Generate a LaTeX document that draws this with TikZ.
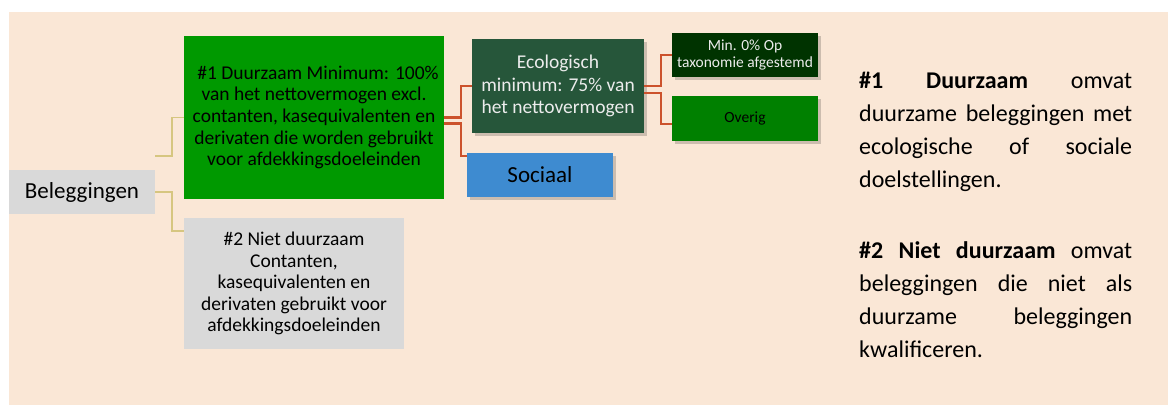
\documentclass[tikz,border=0pt]{standalone}
\usepackage{fontspec}
\setmainfont{Carlito}
\usetikzlibrary{positioning,calc,shadows}
\definecolor{perzik}{RGB}{250,231,214}
\definecolor{lichtgrijs}{RGB}{217,217,217}
\definecolor{felgroen}{RGB}{0,153,0}
\definecolor{bosgroen}{RGB}{38,86,58}
\definecolor{donkergroen}{RGB}{0,51,0}
\definecolor{middengroen}{RGB}{0,128,0}
\definecolor{hemelblauw}{RGB}{62,139,208}
\definecolor{roestrood}{RGB}{204,82,44}
\definecolor{kaki}{RGB}{214,198,128}
\definecolor{wittekst}{RGB}{236,236,236}

\begin{document}
\begin{tikzpicture}[x=1pt, y=-1pt,
  vak/.style={fill=#1, inner sep=0pt, align=center, text=black},
  schaduw/.style={drop shadow={shadow xshift=2.5pt, shadow yshift=-2.5pt,
    opacity=0.18, fill=black}},
  tak/.style={draw=#1, line width=2.1pt},
  uitleg/.style={anchor=north west, text width=273pt, align=justify,
    inner sep=0pt, font=\fontsize{24}{33}\selectfont}
]
\useasboundingbox (0,0) rectangle (1168,405);
\fill[perzik] (9,12) rectangle (1168,405);

\node[vak=lichtgrijs, minimum width=146pt, minimum height=44pt,
  font=\fontsize{23}{27}\selectfont] (bel) at (82,192) {Beleggingen};
\node[vak=felgroen, minimum width=260pt, minimum height=163pt,
  font=\fontsize{19.5}{21.7}\selectfont] (dz) at (314,117.5)
  {\hspace{8pt}\#1 Duurzaam Minimum: 100\%\\van het nettovermogen excl.\\
   contanten, kasequivalenten en\\derivaten die worden gebruikt\\
   voor afdekkingsdoeleinden};
\node[vak=lichtgrijs, minimum width=220pt, minimum height=131pt,
  font=\fontsize{19.5}{21.5}\selectfont] (nd) at (294,283.5)
  {\#2 Niet duurzaam\\Contanten,\\kasequivalenten en\\
   derivaten gebruikt voor\\afdekkingsdoeleinden};
\node[vak=bosgroen, schaduw, text=wittekst, minimum width=172pt,
  minimum height=94pt, font=\fontsize{19.5}{22.5}\selectfont] (eco) at (558,86)
  {Ecologisch\\minimum: 75\% van\\het nettovermogen};
\node[vak=hemelblauw, schaduw, minimum width=146pt, minimum height=44pt,
  font=\fontsize{23}{27}\selectfont] (soc) at (540,175) {Sociaal};
\node[vak=donkergroen, schaduw, text=wittekst, minimum width=146pt,
  minimum height=44pt, font=\fontsize{15.5}{17.5}\selectfont] (tax) at (745,55)
  {Min. 0\% Op\\taxonomie afgestemd};
\node[vak=middengroen, schaduw, minimum width=146pt, minimum height=45pt,
  font=\fontsize{15.5}{17.5}\selectfont] (ov) at (745,118.5) {Overig};

% vertakkingen
\coordinate (belhoog) at ($(bel.north east)+(0,-14)$);
\draw[tak=kaki, line width=1.6pt] (belhoog) -- ++(17,0) |- (dz.west);
\draw[tak=kaki, line width=1.6pt] (bel.east) -- ++(17,0) |- ($(nd.north west)+(0,13)$);
\draw[tak=roestrood] (dz.east) -- ++(17,0) |- (eco.west);
\draw[tak=roestrood] ($(dz.east)+(0,6)$) -- ++(17,0) |- ($(soc.north west)+(0,3)$);
\draw[tak=roestrood] (eco.east) -- ++(17,0) |- (tax.west);
\draw[tak=roestrood] ($(eco.east)+(0,7)$) -- ++(17,0) |- ($(ov.west)+(0,5.5)$);

% toelichting
\node[uitleg] (uitleg1) at (859,72) {\hyphenpenalty=10000
  \textbf{\#1 Duurzaam} omvat\linebreak duurzame beleggingen met\linebreak
  ecologische of sociale\linebreak doelstellingen.};
\node[uitleg] (uitleg2) at (859,241) {\hyphenpenalty=10000
  \textbf{\#2 Niet duurzaam} omvat\linebreak beleggingen die niet als\linebreak
  duurzame beleggingen\linebreak kwalificeren.};
\end{tikzpicture}
\end{document}
